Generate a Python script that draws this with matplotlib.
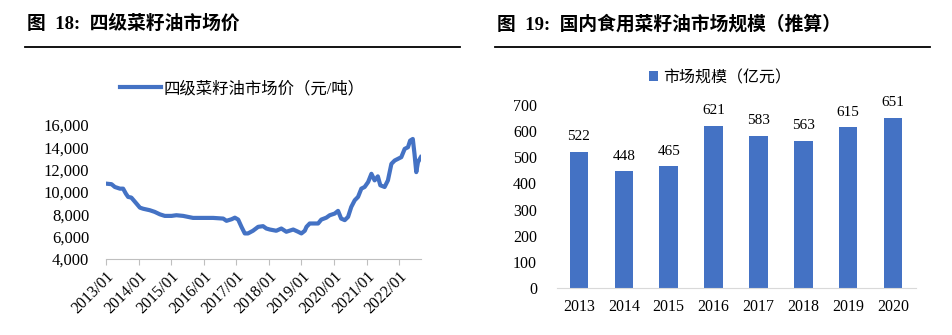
import warnings
warnings.filterwarnings('ignore')

import pandas as pd
import matplotlib
matplotlib.use('Agg')
import matplotlib.pyplot as plt
import matplotlib.dates as mdates
from matplotlib.lines import Line2D
from matplotlib.ticker import FuncFormatter

plt.rcParams['font.family'] = ['Liberation Serif', 'Noto Sans CJK SC']

# Left chart: rapeseed oil price (yuan/ton)
price_dates = [
    '2013-01-01', '2013-03-04', '2013-04-10', '2013-06-06', '2013-07-12', '2013-08-12',
    '2013-09-06', '2013-10-12', '2013-12-09', '2014-01-16', '2014-02-22', '2014-05-06',
    '2014-07-01', '2014-08-28', '2014-10-22', '2015-01-06', '2015-03-01', '2015-05-16',
    '2015-07-10', '2015-09-04', '2015-12-25', '2016-04-16', '2016-08-07', '2016-09-13',
    '2016-11-09', '2016-12-16', '2017-01-22', '2017-02-28', '2017-04-06', '2017-05-12',
    '2017-07-07', '2017-09-03', '2017-10-28', '2017-12-04', '2018-01-12', '2018-03-25',
    '2018-05-21', '2018-07-16', '2018-10-01', '2018-11-25', '2019-01-01', '2019-02-08',
    '2019-02-27', '2019-04-04', '2019-06-01', '2019-07-07', '2019-08-12', '2019-10-07',
    '2019-11-15', '2020-01-10', '2020-02-16', '2020-03-22', '2020-05-01', '2020-06-07',
    '2020-07-13', '2020-08-21', '2020-09-27', '2020-11-03', '2020-12-10', '2021-01-18',
    '2021-02-24', '2021-04-01', '2021-05-07', '2021-06-04', '2021-07-22', '2021-08-28',
    '2021-10-06', '2021-11-12', '2021-12-19', '2022-01-25', '2022-03-04', '2022-04-10',
    '2022-05-04', '2022-06-03', '2022-06-22', '2022-07-12', '2022-07-31', '2022-09-01',
]
price_values = [
    10750, 10700, 10450, 10300, 10300, 9850,
    9560, 9500, 8960, 8600, 8500, 8370,
    8220, 8000, 7860, 7860, 7920, 7860,
    7770, 7680, 7680, 7680, 7620, 7420,
    7560, 7700, 7530, 6880, 6290, 6290,
    6530, 6880, 6940, 6730, 6640, 6530,
    6730, 6440, 6640, 6440, 6290, 6530,
    6880, 7180, 7180, 7180, 7530, 7700,
    7920, 8070, 8310, 7620, 7480, 7770,
    8660, 9260, 9560, 10300, 10450, 10890,
    11630, 11040, 11400, 10600, 10450, 11040,
    12520, 12820, 12970, 13120, 13860, 14010,
    14600, 14750, 13420, 11780, 12670, 13120,
]

# Right chart: domestic edible rapeseed oil market size (100 million yuan)
years = ['2013', '2014', '2015', '2016', '2017', '2018', '2019', '2020']
market_size = [522, 448, 465, 621, 583, 563, 615, 651]

blue = '#4472C4'
grey = '#BFBFBF'

fig = plt.figure(figsize=(9.52, 3.35), dpi=100, facecolor='white')

# Titles with underline
fig.text(27 / 952, 1 - 24 / 335, '图  18:  四级菜籽油市场价', fontsize=13.5,
         fontweight='bold', va='center', ha='left')
fig.text(497 / 952, 1 - 24 / 335, '图  19:  国内食用菜籽油市场规模（推算）', fontsize=13.5,
         fontweight='bold', va='center', ha='left')
fig.add_artist(Line2D([25 / 952, 460 / 952], [1 - 47 / 335] * 2, color='black', linewidth=1.3))
fig.add_artist(Line2D([495 / 952, 930 / 952], [1 - 47 / 335] * 2, color='black', linewidth=1.3))

# ---- Left: price line ----
ax1 = fig.add_axes([106 / 952, 1 - 259 / 335, 315 / 952, 134 / 335])
dates = pd.to_datetime(price_dates)
ax1.plot(dates, price_values, color=blue, linewidth=3, label='四级菜籽油市场价（元/吨）')
ax1.set_ylim(4000, 16000)
ax1.set_yticks(range(4000, 16001, 2000))
ax1.yaxis.set_major_formatter(FuncFormatter(lambda v, p: f'{int(v):,}'))
ax1.set_xlim(pd.Timestamp('2013-01-01'), pd.Timestamp('2022-09-03'))
ax1.xaxis.set_major_locator(mdates.YearLocator())
ax1.xaxis.set_major_formatter(mdates.DateFormatter('%Y/%m'))
for lbl in ax1.get_xticklabels():
    lbl.set_rotation(45)
    lbl.set_ha('right')
    lbl.set_rotation_mode('anchor')
ax1.tick_params(axis='x', length=4, color=grey, labelsize=11.5, pad=3)
ax1.tick_params(axis='y', length=0, labelsize=12, pad=12)
for s in ['top', 'right', 'left']:
    ax1.spines[s].set_visible(False)
ax1.spines['bottom'].set_color(grey)
ax1.legend(loc='center', bbox_to_anchor=(242 / 952, 1 - 89 / 335), bbox_transform=fig.transFigure,
           frameon=False, fontsize=11.8, handlelength=2.5, handletextpad=0.15)

# ---- Right: bars ----
ax2 = fig.add_axes([556.5 / 952, 1 - 288 / 335, 359 / 952, 183 / 335])
bars = ax2.bar(years, market_size, width=0.41, color=blue, label='市场规模（亿元）')
ax2.bar_label(bars, labels=[str(v) for v in market_size], padding=6, fontsize=11)
ax2.set_ylim(0, 700)
ax2.set_yticks(range(0, 701, 100))
ax2.set_xlim(-0.5, len(years) - 0.5)
ax2.tick_params(axis='x', length=0, labelsize=11.5, pad=8)
ax2.tick_params(axis='y', length=0, labelsize=11.5, pad=14)
for s in ['top', 'right', 'left']:
    ax2.spines[s].set_visible(False)
ax2.spines['bottom'].set_color('#D9D9D9')
ax2.legend(loc='center', bbox_to_anchor=(720 / 952, 1 - 78 / 335), bbox_transform=fig.transFigure,
           frameon=False, fontsize=11.5, handlelength=0.6, handleheight=0.6, handletextpad=0.3)

fig.savefig('out.png', dpi=100, facecolor='white')
